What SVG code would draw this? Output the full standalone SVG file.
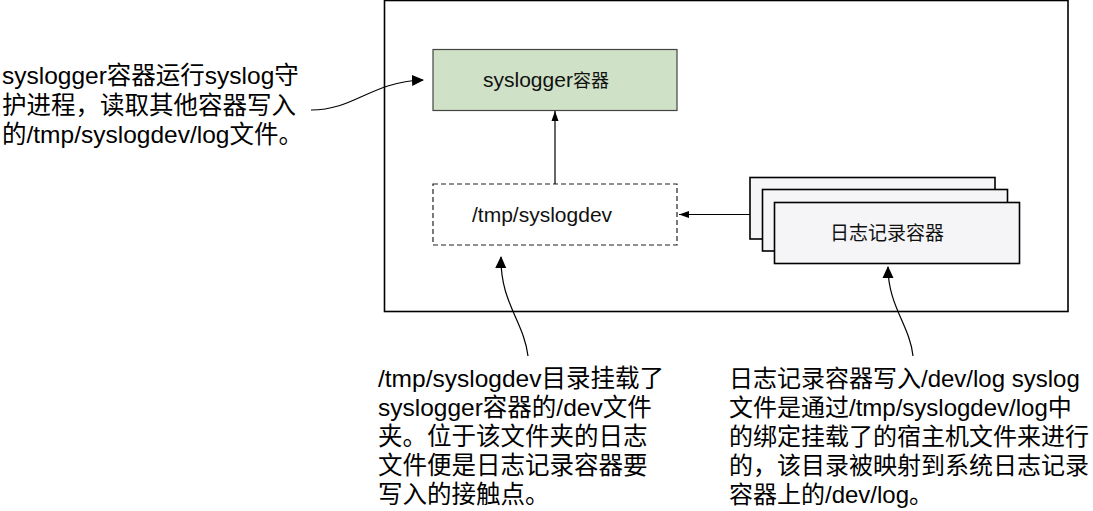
<svg xmlns="http://www.w3.org/2000/svg" width="1093" height="511" viewBox="0 0 1093 511">
<defs>
<style>
.note{font-family:"Liberation Sans","Noto Sans CJK SC",sans-serif;font-size:24px;fill:#000}
.wide{font-size:24.5px}
.lbl{font-family:"Liberation Sans","Noto Sans CJK SC",sans-serif;font-size:21px;fill:#111}
.cjk{font-family:"Noto Sans CJK SC",sans-serif}
.conn{fill:none;stroke:#000;stroke-width:1.2}
.stack{fill:#f5f5f7;stroke:#000;stroke-width:1.6}
</style>
<marker id="big" viewBox="0 0 12 12" refX="11" refY="6" markerWidth="12" markerHeight="12" markerUnits="userSpaceOnUse" orient="auto">
<path d="M0,0.5 L12,6 L0,11.5 Z" fill="#000"/>
</marker>
<marker id="small" viewBox="0 0 10 8" refX="10" refY="4" markerWidth="10" markerHeight="8" markerUnits="userSpaceOnUse" orient="auto">
<path d="M0,0.5 L10,4 L0,7.5 Z" fill="#000"/>
</marker>
</defs>
<rect width="1093" height="511" fill="#fff"/>
<g id="host">
<rect x="384.5" y="0.5" width="683.5" height="311" fill="none" stroke="#000" stroke-width="1.6"/>
</g>
<g id="syslogger">
<rect x="433" y="49.5" width="244" height="61" fill="#cfe1c6" stroke="#444" stroke-width="1.2"/>
<text class="lbl" x="483" y="87" font-size="22.5">syslogger<tspan class="cjk" font-size="18">容器</tspan></text>
</g>
<g id="syslogdev">
<rect x="433" y="184" width="244" height="61" fill="#fff" stroke="#222" stroke-width="1.2" stroke-dasharray="5,3"/>
<text class="lbl" x="472" y="222">/tmp/syslogdev</text>
</g>
<g id="loggers">
<rect class="stack" x="750" y="177.5" width="245" height="61.5"/>
<rect class="stack" x="762.5" y="189.5" width="245" height="61.5"/>
<rect class="stack" x="774.5" y="202.5" width="245" height="61"/>
<text class="cjk" x="830" y="239.5" font-size="19" fill="#111">日志记录容器</text>
</g>
<g id="note-left">
<text class="note wide" x="2" y="84">syslogger容器运行syslog守</text>
<text class="note wide" x="2" y="113.5">护进程，读取其他容器写入</text>
<text class="note wide" x="2" y="143">的/tmp/syslogdev/log文件。</text>
</g>
<g id="note-middle">
<text class="note wide" x="378" y="387">/tmp/syslogdev目录挂载了</text>
<text class="note wide" x="378" y="416">syslogger容器的/dev文件</text>
<text class="note wide" x="378" y="445">夹。位于该文件夹的日志</text>
<text class="note wide" x="378" y="474">文件便是日志记录容器要</text>
<text class="note wide" x="378" y="503">写入的接触点。</text>
</g>
<g id="note-right">
<text class="note" x="729" y="387">日志记录容器写入/dev/log syslog</text>
<text class="note" x="729" y="416">文件是通过/tmp/syslogdev/log中</text>
<text class="note" x="729" y="445">的绑定挂载了的宿主机文件来进行</text>
<text class="note" x="729" y="474">的，该目录被映射到系统日志记录</text>
<text class="note" x="729" y="503">容器上的/dev/log。</text>
</g>
<g id="connectors">
<path class="conn" d="M555,184 L555,111" marker-end="url(#small)"/>
<path class="conn" d="M750,214.5 L679,214.5" marker-end="url(#small)"/>
<path class="conn" d="M311,110 C355,110 370,82 423,80" marker-end="url(#big)"/>
<path class="conn" d="M528,356 C524,322 500,302 501,257" marker-end="url(#big)"/>
<path class="conn" d="M913,356 C910,326 888,306 888,267" marker-end="url(#big)"/>
</g>
</svg>
